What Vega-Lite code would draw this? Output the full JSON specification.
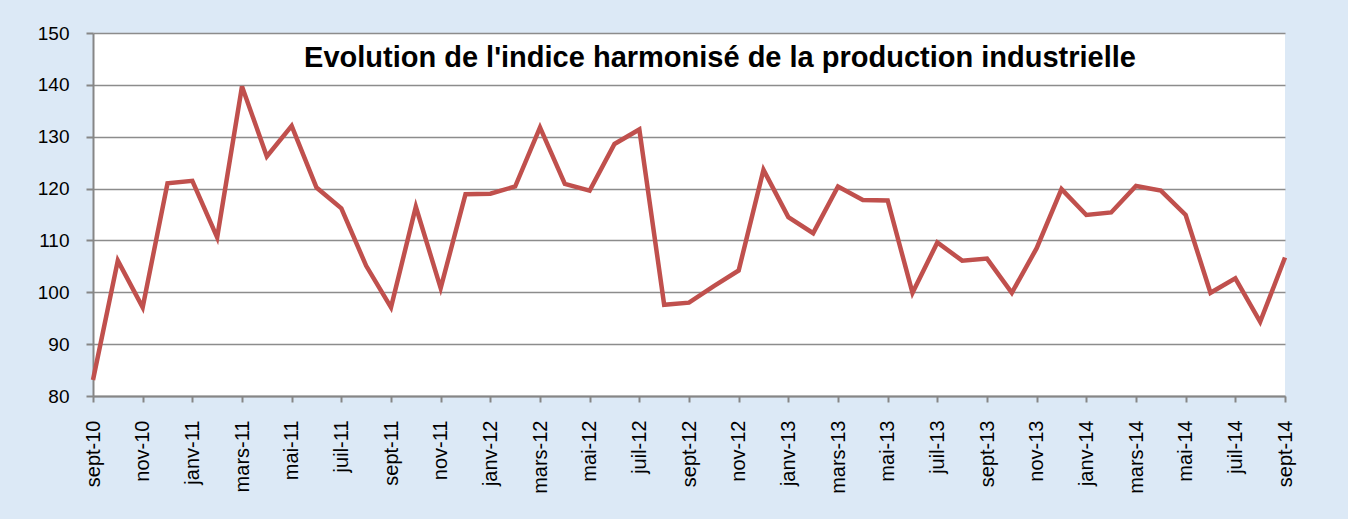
{
  "$schema": "https://vega.github.io/schema/vega-lite/v6.json",
  "width": 1192,
  "height": 363,
  "autosize": {"type": "none"},
  "padding": {"left": 93, "top": 33, "right": 63, "bottom": 123},
  "background": "#dce9f6",
  "title": {
    "text": "Evolution de l'indice harmonisé de la production industrielle",
    "font": "Liberation Sans",
    "fontSize": 29,
    "fontWeight": "bold",
    "color": "#000000",
    "anchor": "middle",
    "dx": 31,
    "baseline": "alphabetic",
    "offset": -72
  },
  "config": {
    "view": {"fill": "#ffffff", "stroke": null},
    "axis": {"labelFont": "Liberation Sans", "labelColor": "#000000"}
  },
  "data": {
    "values": [
      {"mois": "sept-10", "indice": 83.1},
      {"mois": "oct-10", "indice": 106.1},
      {"mois": "nov-10", "indice": 97.1},
      {"mois": "déc-10", "indice": 121.0},
      {"mois": "janv-11", "indice": 121.5},
      {"mois": "févr-11", "indice": 110.6},
      {"mois": "mars-11", "indice": 139.7},
      {"mois": "avr-11", "indice": 126.2},
      {"mois": "mai-11", "indice": 132.1},
      {"mois": "juin-11", "indice": 120.2},
      {"mois": "juil-11", "indice": 116.2},
      {"mois": "août-11", "indice": 105.1},
      {"mois": "sept-11", "indice": 97.1},
      {"mois": "oct-11", "indice": 116.5},
      {"mois": "nov-11", "indice": 100.8},
      {"mois": "déc-11", "indice": 118.9},
      {"mois": "janv-12", "indice": 119.0},
      {"mois": "févr-12", "indice": 120.4},
      {"mois": "mars-12", "indice": 131.8},
      {"mois": "avr-12", "indice": 120.9},
      {"mois": "mai-12", "indice": 119.6},
      {"mois": "juin-12", "indice": 128.6},
      {"mois": "juil-12", "indice": 131.4},
      {"mois": "août-12", "indice": 97.6},
      {"mois": "sept-12", "indice": 98.0},
      {"mois": "oct-12", "indice": 101.2},
      {"mois": "nov-12", "indice": 104.2},
      {"mois": "déc-12", "indice": 123.6},
      {"mois": "janv-13", "indice": 114.5},
      {"mois": "févr-13", "indice": 111.4},
      {"mois": "mars-13", "indice": 120.4},
      {"mois": "avr-13", "indice": 117.8},
      {"mois": "mai-13", "indice": 117.7},
      {"mois": "juin-13", "indice": 99.9},
      {"mois": "juil-13", "indice": 109.6},
      {"mois": "août-13", "indice": 106.1},
      {"mois": "sept-13", "indice": 106.5},
      {"mois": "oct-13", "indice": 99.9},
      {"mois": "nov-13", "indice": 108.5},
      {"mois": "déc-13", "indice": 119.9},
      {"mois": "janv-14", "indice": 114.9},
      {"mois": "févr-14", "indice": 115.4},
      {"mois": "mars-14", "indice": 120.5},
      {"mois": "avr-14", "indice": 119.6},
      {"mois": "mai-14", "indice": 114.9},
      {"mois": "juin-14", "indice": 99.9},
      {"mois": "juil-14", "indice": 102.7},
      {"mois": "août-14", "indice": 94.3},
      {"mois": "sept-14", "indice": 106.7}
    ]
  },
  "mark": {"type": "line", "color": "#c0504d", "strokeWidth": 4.5, "strokeJoin": "miter", "strokeCap": "butt"},
  "encoding": {
    "x": {
      "field": "mois",
      "type": "ordinal",
      "sort": null,
      "scale": {"type": "point", "padding": 0},
      "axis": {
        "title": null,
        "values": ["sept-10", "nov-10", "janv-11", "mars-11", "mai-11", "juil-11", "sept-11", "nov-11", "janv-12", "mars-12", "mai-12", "juil-12", "sept-12", "nov-12", "janv-13", "mars-13", "mai-13", "juil-13", "sept-13", "nov-13", "janv-14", "mars-14", "mai-14", "juil-14", "sept-14"],
        "labelAngle": 270,
        "labelFontSize": 20,
        "labelPadding": 18,
        "labelOverlap": false,
        "domainColor": "#868686",
        "domainWidth": 2,
        "tickColor": "#868686",
        "tickWidth": 2,
        "tickSize": 6,
        "grid": false
      }
    },
    "y": {
      "field": "indice",
      "type": "quantitative",
      "scale": {"domain": [80, 150], "nice": false, "zero": false},
      "axis": {
        "title": null,
        "values": [80, 90, 100, 110, 120, 130, 140, 150],
        "labelFontSize": 19,
        "labelPadding": 17,
        "domainColor": "#868686",
        "domainWidth": 2,
        "tickColor": "#868686",
        "tickWidth": 2,
        "tickSize": 7,
        "grid": true,
        "gridColor": "#8c8c8c",
        "gridWidth": 1.6
      }
    }
  }
}
